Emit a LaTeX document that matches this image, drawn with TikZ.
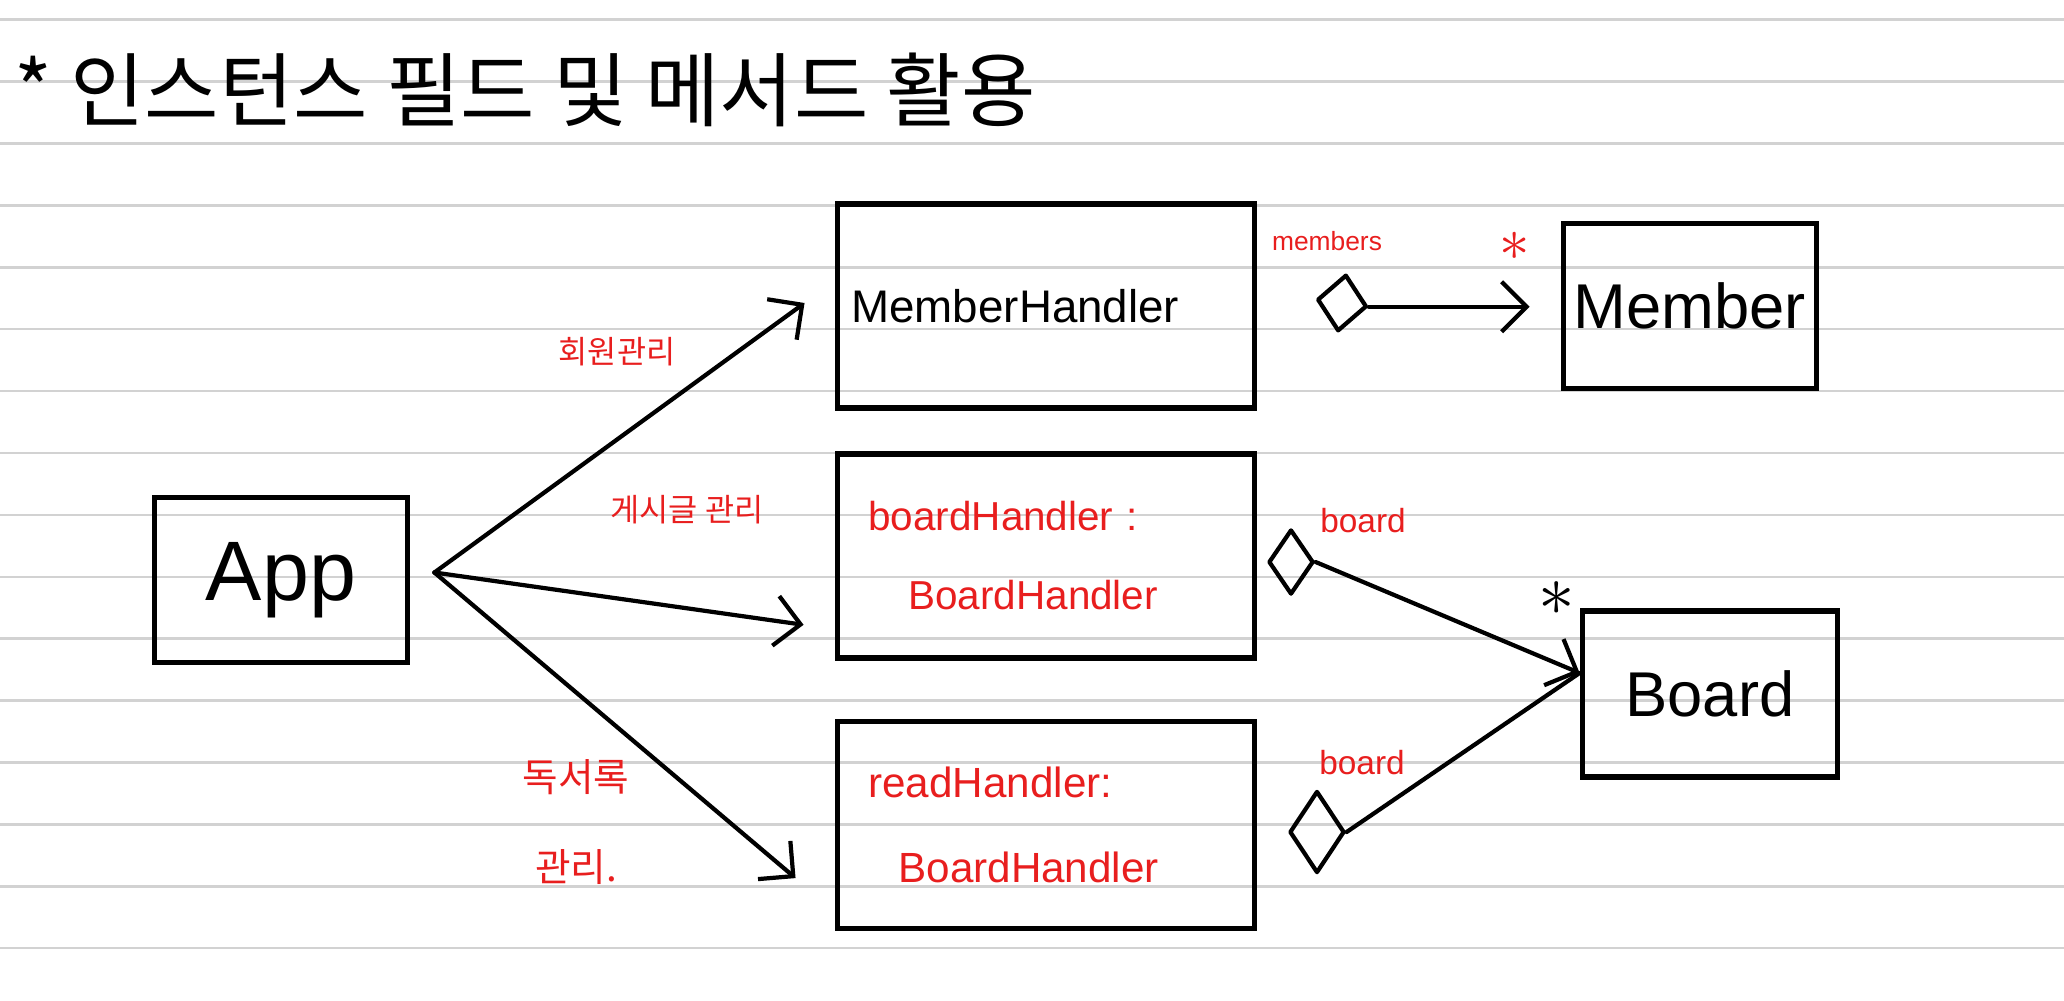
\documentclass[tikz,border=0pt]{standalone}
\usepackage{fontspec}
\setmainfont{Liberation Sans}
\newfontfamily\kor{Noto Sans CJK KR}
\usetikzlibrary{positioning, arrows.meta, shapes.geometric}
\definecolor{penred}{HTML}{E81E1E}
\definecolor{paperline}{HTML}{D2D2D2}

\begin{document}
\begin{tikzpicture}[
  x=0.01cm, y=-0.01cm,
  box/.style={rectangle, draw, line width=1.6pt, minimum width=2.53cm, minimum height=1.65cm, inner sep=0pt},
  hbox/.style={box, minimum width=4.17cm, minimum height=2.04cm, text width=3.55cm, inner xsep=0.31cm, align=left},
  dia/.style={diamond, draw, line width=1.2pt, inner sep=0pt, line join=round},
  redtxt/.style={text=penred},
  ruled/.style={paperline, line width=0.7pt},
  arr/.style={-{Straight Barb[length=2.5mm, width=5mm]}, line width=1.2pt, line cap=round, line join=round}
]
\useasboundingbox (0,0) rectangle (2064,1000);
% notebook lines
\foreach \k in {0,...,15}
  \draw[ruled] (0,19.7+61.9*\k) -- (2064,19.7+61.9*\k);

\node[anchor=west, font=\kor\fontsize{23}{27}\selectfont] (title) at (2,90) {* 인스턴스 필드 및 메서드 활용};

% classes
\node[box, font=\fontsize{24}{28}\selectfont] (app) at (281,580) {App};
\node[hbox, font=\fontsize{13}{15}\selectfont] (mh) at (1046,306) {\hspace*{-0.17cm}MemberHandler};
\node[hbox, below=0.4cm of mh, redtxt, font=\fontsize{11.5}{14}\selectfont] (bh) {boardHandler :\\[0.3cm]\hspace*{0.4cm}BoardHandler};
\node[hbox, below=0.58cm of bh, minimum height=2.07cm, redtxt, font=\fontsize{12}{15}\selectfont] (rh) {readHandler:\\[0.32cm]\hspace*{0.3cm}BoardHandler};
\node[box, right=3.03cm of mh, font=\fontsize{18}{22}\selectfont] (mem) {Member};
\node[box, minimum width=2.55cm, minimum height=1.66cm, font=\fontsize{18}{22}\selectfont] (brd) at (1710,694) {Board};

% associations from App
\coordinate (fork) at ([xshift=0.24cm, yshift=0.075cm]app.east);
\draw[arr] (fork) -- ([xshift=-0.3cm, yshift=0.03cm]mh.west);
\draw[arr] (fork) -- ([xshift=-0.31cm, yshift=-0.69cm]bh.west);
\draw[arr] (fork) -- ([xshift=-0.39cm, yshift=-0.53cm]rh.west);
\node[redtxt, font=\kor\fontsize{9}{11}\selectfont] (lmem) at (617,352) {회원관리};
\node[redtxt, font=\kor\fontsize{9}{11}\selectfont] (lboard) at (687,510) {게시글 관리};
\node[redtxt, align=center, font=\kor\fontsize{11}{13}\selectfont] (lread) at (576,822) {독서록\\[0.45cm]관리.};

% aggregation diamonds
\node[dia, minimum width=0.5cm, minimum height=0.57cm, rotate=-8] (md) at (1342,303) {};
\node[dia, minimum width=0.45cm, minimum height=0.65cm] (bd1) at (1291,562) {};
\node[dia, minimum width=0.55cm, minimum height=0.82cm] (bd2) at (1317,832) {};
\coordinate (bjoin) at ([yshift=0.21cm]brd.west);

\draw[arr, shorten >=0.31cm] (md.east) -- (md.east -| mem.west);
\draw[arr] (bd1.east) -- (bjoin);
\draw[line width=1.2pt, line cap=round] (bd2.east) -- (bjoin);

\node[redtxt, font=\fontsize{7.5}{9}\selectfont] (lmembers) at (1327,241) {members};
\node[redtxt, font=\fontsize{16}{16}\selectfont] (mstar) at (1515,246) {$\ast$};
\node[redtxt, font=\fontsize{9.5}{11}\selectfont] (lb1) at (1363,521) {board};
\node[redtxt, font=\fontsize{9.5}{11}\selectfont] (lb2) at (1362,763) {board};
\node[font=\fontsize{22}{22}\selectfont] (bstar) at (1557,599) {$\ast$};
\end{tikzpicture}
\end{document}
